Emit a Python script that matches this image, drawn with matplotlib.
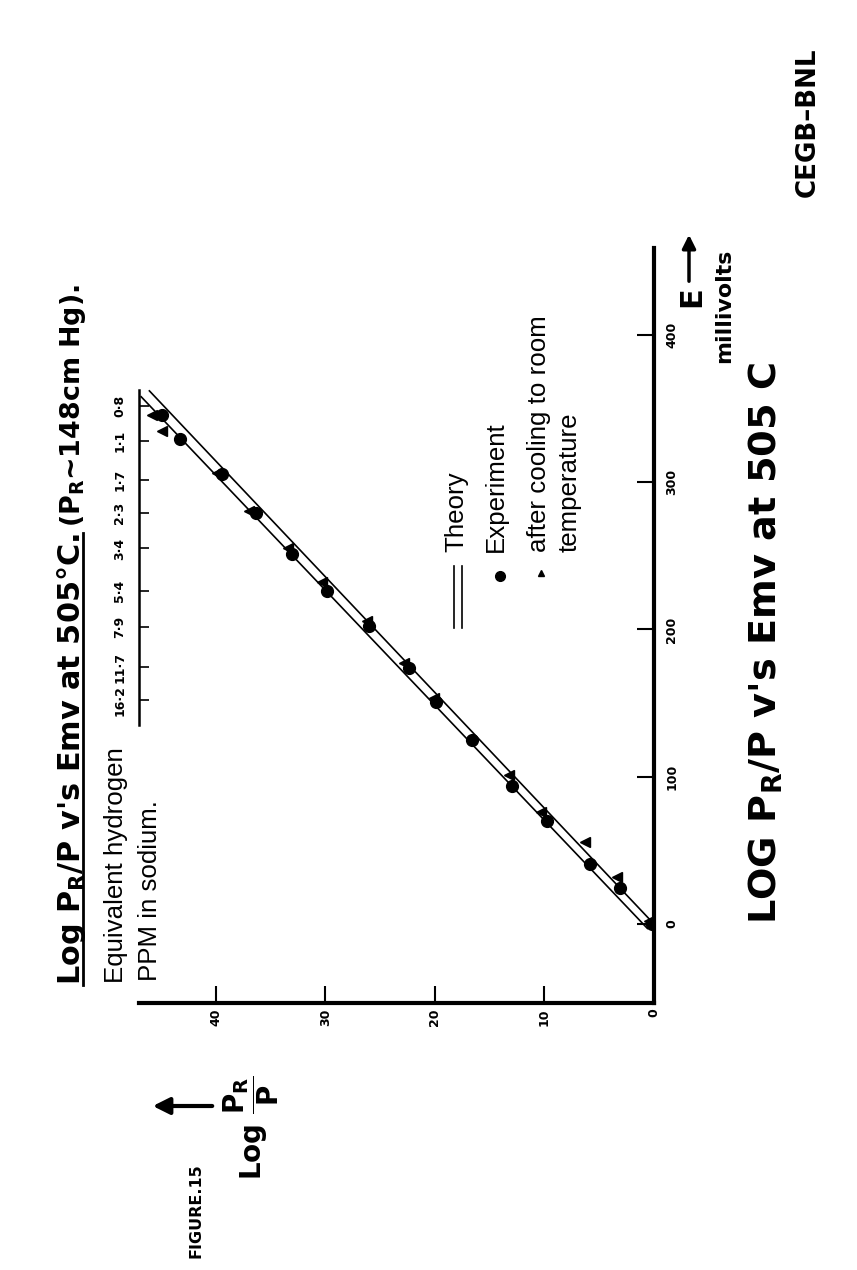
import matplotlib
matplotlib.use('Agg')
import matplotlib.pyplot as plt
from matplotlib import font_manager
from matplotlib.lines import Line2D

# values (E in millivolts, Log PR/P)
e_ticks = [0, 100, 200, 300, 400]
log_ticks = [0, 10, 20, 30, 40]

exp_E = [0, 24.7, 40.5, 69.9, 93.8, 124.9, 150.9, 173.9, 202.6, 226.2, 251.5, 279.2, 305.6, 329.2, 345.6]
exp_log = [0.2, 3.1, 5.8, 9.8, 13.0, 16.6, 19.9, 22.4, 26.0, 29.8, 33.0, 36.3, 39.4, 43.3, 44.9]

cool_E = [2, 32, 55.7, 76, 101.3, 153.6, 177.2, 206, 232, 255.6, 280.2, 306.2, 335, 345.6]
cool_log = [0.5, 3.4, 6.3, 10.3, 13.2, 20.1, 22.8, 26.2, 30.3, 33.4, 37.0, 39.9, 44.9, 45.8]

theory_E = [2, 362]
theory_log = [0.25, 46.05]
theory2_E = [-3, 358]
theory2_log = [0.6, 46.8]

# equivalent hydrogen scale (ppm in sodium) placed along E
ppm_E = [152, 174.5, 202, 226, 255, 279, 301.5, 328, 352]
ppm_labels = ['16·2', '11·7', '7·9', '5·4', '3·4', '2·3', '1·7', '1·1', '0·8']

W, H = 857, 1270
names = {f.name for f in font_manager.fontManager.ttflist}
NARROW = 'Liberation Sans Narrow' if 'Liberation Sans Narrow' in names else 'DejaVu Sans'
REG = 'Liberation Sans' if 'Liberation Sans' in names else 'DejaVu Sans'

plt.rcParams['mathtext.fontset'] = 'custom'
plt.rcParams['mathtext.rm'] = 'DejaVu Sans'
plt.rcParams['mathtext.bf'] = 'DejaVu Sans:bold'
plt.rcParams['mathtext.default'] = 'bf'


def P(x, y):
    # image pixel -> figure fraction
    return x / W, 1 - y / H


fig = plt.figure(figsize=(W / 100, H / 100), dpi=100)
ax = fig.add_axes([139 / W, 1 - 1003 / H, 515 / W, 755 / H])
ax.set_xlim(47.0, 0)
ax.set_ylim(-53.6, 459)

ax.plot(theory_log, theory_E, color='black', lw=1.2)
ax.plot(theory2_log, theory2_E, color='black', lw=1.2)
ax.plot(exp_log, exp_E, 'o', color='black', ms=8.5)
ax.plot(cool_log, cool_E, '<', color='black', ms=7)

ax.spines['top'].set_visible(False)
ax.spines['right'].set_linewidth(3)
ax.spines['bottom'].set_linewidth(3)
ax.spines['left'].set_linewidth(1.8)
ax.spines['left'].set_bounds(135, 362.5)

# second axes only for the ppm scale on the left
ax2 = ax.twinx()
ax2.set_ylim(ax.get_ylim())
for s in ax2.spines.values():
    s.set_visible(False)

ax.yaxis.tick_right()
ax.set_yticks(e_ticks)
ax.set_yticklabels([str(v) for v in e_ticks], rotation=90, va='center',
                   fontfamily=NARROW, fontweight='bold', fontsize=9)
ax.set_xticks(log_ticks)
ax.set_xticklabels([str(v) for v in log_ticks], rotation=90,
                   fontfamily=NARROW, fontweight='bold', fontsize=9)
ax.tick_params(axis='y', direction='in', length=12, width=1.5, pad=8)
ax.tick_params(axis='x', direction='in', length=12, width=1.5, pad=4)

ax2.yaxis.tick_left()
ax2.set_yticks(ppm_E)
ax2.set_yticklabels(ppm_labels, rotation=90, va='center',
                    fontfamily=NARROW, fontweight='bold', fontsize=9)
ax2.tick_params(axis='y', direction='in', length=7, width=1.2, pad=9)

r = fig.canvas.get_renderer()


def vtext(x, y, s, length=None, size=12, **kw):
    t = fig.text(*P(x, y), s, rotation=90, rotation_mode='anchor',
                 ha='left', va='baseline', fontsize=size, **kw)
    if length:
        h = t.get_window_extent(r).height
        t.set_fontsize(size * length / h)
    return t


# top title with underline
t1 = vtext(80, 985, "Log P$_R$/P v's Emv at 505°C.", 453, 18,
           fontfamily='DejaVu Sans', fontweight='bold')
end1 = t1.get_window_extent(r).y1
fig.add_artist(Line2D([83 / W, 83 / W], [1 - 985 / H, end1 / H], color='black',
                      lw=2, transform=fig.transFigure))
vtext(80, H - end1 - 6, "(P$_R$~148cm Hg).", 243, 18,
      fontfamily='DejaVu Sans', fontweight='bold')

t = vtext(123, 983, 'Equivalent hydrogen', 238, 14, fontfamily=REG)
fs_reg = t.get_fontsize()
vtext(157, 981, 'PPM in sodium.', None, fs_reg, fontfamily=REG)

# legend drawn by hand (rotated)
for lx in (454, 462):
    fig.add_artist(Line2D([lx / W, lx / W], [1 - 628 / H, 1 - 566 / H], color='black',
                          lw=1.2, transform=fig.transFigure))
fig.add_artist(Line2D([500 / W], [1 - 576 / H], marker='o', ms=7, color='black',
                      transform=fig.transFigure))
fig.add_artist(Line2D([541 / W], [1 - 573 / H], marker='^', ms=5, color='black',
                      transform=fig.transFigure))
vtext(463, 552, 'Theory', None, fs_reg, fontfamily=REG)
vtext(503, 552, 'Experiment', None, fs_reg, fontfamily=REG)
vtext(546, 552, 'after cooling to room', None, fs_reg, fontfamily=REG)
vtext(577, 552, 'temperature', None, fs_reg, fontfamily=REG)

# axis names
vtext(700, 307, 'E', None, 22, fontfamily=NARROW, fontweight='bold')
ax.annotate('', xy=P(689, 232), xytext=P(689, 284), xycoords='figure fraction',
            arrowprops=dict(arrowstyle='-|>', lw=2.5, color='black', mutation_scale=20))
vtext(730, 363, 'millivolts', 113, 12, fontfamily=NARROW, fontweight='bold')

vtext(262, 1180, r'Log $\dfrac{P_R}{P}$', None, 20, fontfamily='DejaVu Sans', fontweight='bold')
ax.annotate('', xy=P(150, 1106), xytext=P(215, 1106), xycoords='figure fraction',
            arrowprops=dict(arrowstyle='-|>', lw=3, color='black', mutation_scale=25))

vtext(777, 924, "LOG P$_R$/P v's Emv at 505 C", 562, 30,
      fontfamily=NARROW, fontweight='bold')
vtext(815, 197, 'CEGB–BNL', 150, 16, fontfamily=NARROW, fontweight='bold')
vtext(200, 1258, 'FIGURE.15', 95, 14, fontfamily=NARROW, fontweight='bold')

fig.savefig('out.png', dpi=100, facecolor='white')
